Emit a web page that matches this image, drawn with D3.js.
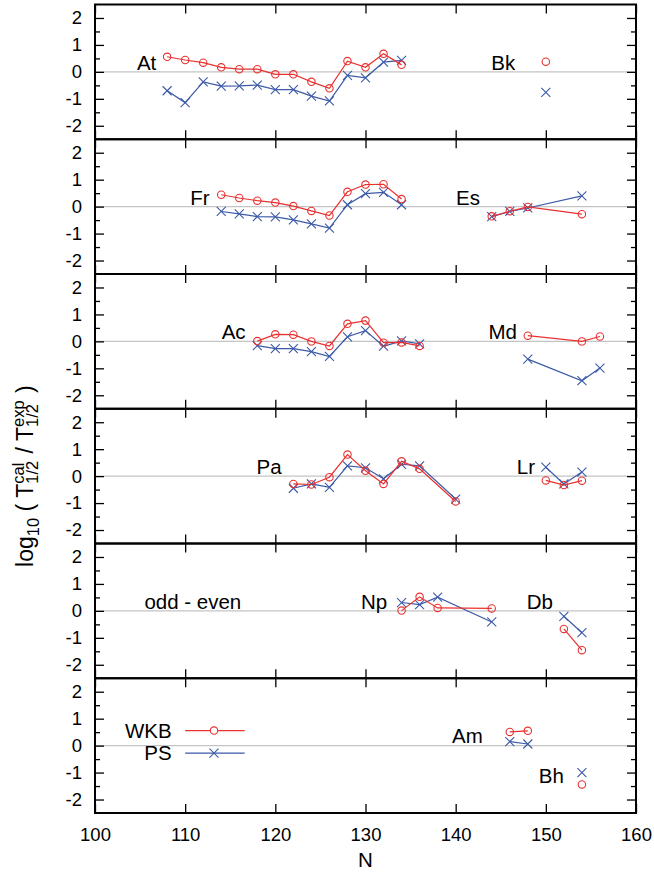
<!DOCTYPE html>
<html>
<head>
<meta charset="utf-8">
<script src="https://cdn.jsdelivr.net/npm/d3@7"></script>
<style>
  body { margin: 0; background: #fff; }
  svg { display: block; }
  text { font-family: "Liberation Sans", Arial, Helvetica, sans-serif; fill: #000; }
</style>
</head>
<body>
<svg id="chart" width="654" height="877"></svg>
<script>
// log10(T_cal / T_exp) per neutron number N, WKB and PS models, grouped by element

// At
const N_At   = [108, 110, 112, 114, 116, 118, 120, 122, 124, 126, 128, 130, 132, 134];
const wkb_At = [0.56, 0.44, 0.34, 0.17, 0.10, 0.10, -0.09, -0.09, -0.37, -0.61, 0.40, 0.17, 0.67, 0.26];
const ps_At  = [-0.70, -1.14, -0.37, -0.53, -0.52, -0.49, -0.66, -0.66, -0.90, -1.08, -0.13, -0.22, 0.36, 0.43];
// Bk
const N_Bk   = [150];
const wkb_Bk = [0.38];
const ps_Bk  = [-0.76];
// Fr
const N_Fr   = [114, 116, 118, 120, 122, 124, 126, 128, 130, 132, 134];
const wkb_Fr = [0.44, 0.32, 0.22, 0.15, 0.02, -0.16, -0.33, 0.55, 0.82, 0.83, 0.28];
const ps_Fr  = [-0.18, -0.27, -0.37, -0.38, -0.49, -0.64, -0.80, 0.07, 0.48, 0.53, 0.07];
// Es
const N_Es   = [144, 146, 148, 154];
const wkb_Es = [-0.36, -0.17, -0.01, -0.28];
const ps_Es  = [-0.37, -0.18, -0.05, 0.40];
// Ac
const N_Ac   = [118, 120, 122, 124, 126, 128, 130, 132, 134, 136];
const wkb_Ac = [0.01, 0.26, 0.25, 0.00, -0.17, 0.65, 0.77, -0.05, -0.04, -0.17];
const ps_Ac  = [-0.16, -0.27, -0.27, -0.38, -0.56, 0.17, 0.40, -0.18, 0.02, -0.09];
// Md
const N_Md   = [148, 154, 156];
const wkb_Md = [0.21, 0.00, 0.18];
const ps_Md  = [-0.66, -1.46, -0.99];
// Pa
const N_Pa   = [122, 124, 126, 128, 130, 132, 134, 136, 140];
const wkb_Pa = [-0.29, -0.31, -0.04, 0.80, 0.20, -0.29, 0.55, 0.27, -0.94];
const ps_Pa  = [-0.45, -0.29, -0.42, 0.38, 0.31, -0.10, 0.44, 0.38, -0.85];
// Lr
const N_Lr   = [150, 152, 154];
const wkb_Lr = [-0.16, -0.33, -0.17];
const ps_Lr  = [0.33, -0.29, 0.15];
// Np (odd - even)
const N_Np   = [134, 136, 138, 144];
const wkb_Np = [0.01, 0.52, 0.11, 0.09];
const ps_Np  = [0.31, 0.23, 0.51, -0.41];
// Db (odd - even)
const N_Db   = [152, 154];
const wkb_Db = [-0.67, -1.46];
const ps_Db  = [-0.20, -0.81];
// Am
const N_Am   = [146, 148];
const wkb_Am = [0.51, 0.55];
const ps_Am  = [0.15, 0.06];
// Bh
const N_Bh   = [154];
const wkb_Bh = [-1.44];
const ps_Bh  = [-1.00];

const xTicks = [100, 110, 120, 130, 140, 150, 160];
const yTicks = [-2, -1, 0, 1, 2];
const yMinor = [-1.5, -0.5, 0.5, 1.5];

// one row of the figure per entry
const rows = [
  [{ n: N_At, wkb: wkb_At, ps: ps_At }, { n: N_Bk, wkb: wkb_Bk, ps: ps_Bk }],
  [{ n: N_Fr, wkb: wkb_Fr, ps: ps_Fr }, { n: N_Es, wkb: wkb_Es, ps: ps_Es }],
  [{ n: N_Ac, wkb: wkb_Ac, ps: ps_Ac }, { n: N_Md, wkb: wkb_Md, ps: ps_Md }],
  [{ n: N_Pa, wkb: wkb_Pa, ps: ps_Pa }, { n: N_Lr, wkb: wkb_Lr, ps: ps_Lr }],
  [{ n: N_Np, wkb: wkb_Np, ps: ps_Np }, { n: N_Db, wkb: wkb_Db, ps: ps_Db }],
  [{ n: N_Am, wkb: wkb_Am, ps: ps_Am }, { n: N_Bh, wkb: wkb_Bh, ps: ps_Bh }]
];

// element tags: row, text, anchor (N), baseline (value), alignment
const tags = [
  [0, "At", 106.8, 0.07, "end"], [0, "Bk", 146.6, 0.07, "end"],
  [1, "Fr", 112.7, 0.07, "end"], [1, "Es", 142.7, 0.07, "end"],
  [2, "Ac", 116.7, 0.07, "end"], [2, "Md", 146.8, 0.07, "end"],
  [3, "Pa", 120.7, 0.07, "end"], [3, "Lr", 148.8, 0.07, "end"],
  [4, "odd - even", 110.85, 0.07, "middle"], [4, "Np", 132.4, 0.07, "end"], [4, "Db", 150.8, 0.07, "end"],
  [5, "Am", 143.0, 0.09, "end"], [5, "Bh", 152.0, -1.39, "end"]
];

const plotLeft = 95, plotRight = 636, plotTop = 4.5, rowH = 134.75;
const RED = "#e8302f", BLUE = "#3c5aa8";
const TICK_FS = 18.5, TAG_FS = 20.5;

const svg = d3.select("#chart");
const x = d3.scaleLinear().domain([100, 160]).range([plotLeft, plotRight]);

const crossPath = "M-4.5,-4.5L4.5,4.5M-4.5,4.5L4.5,-4.5";

function drawSeries(g, y, n, vals, color, marker) {
  const pts = n.map((d, i) => [d, vals[i]]);
  if (pts.length > 1) {
    g.append("path")
      .attr("d", d3.line().x(d => x(d[0])).y(d => y(d[1]))(pts))
      .attr("fill", "none").attr("stroke", color).attr("stroke-width", 1.2);
  }
  pts.forEach(d => {
    if (marker === "circle") {
      g.append("circle").attr("cx", x(d[0])).attr("cy", y(d[1])).attr("r", 3.7)
        .attr("fill", "none").attr("stroke", color).attr("stroke-width", 1.1);
    } else {
      g.append("path").attr("d", crossPath)
        .attr("transform", `translate(${x(d[0])},${y(d[1])})`)
        .attr("fill", "none").attr("stroke", color).attr("stroke-width", 1.1);
    }
  });
}

rows.forEach((row, i) => {
  const y0 = plotTop + i * rowH;
  const y = d3.scaleLinear().domain([-2.5, 2.5]).range([y0 + rowH, y0]);
  const g = svg.append("g");

  // zero reference line
  g.append("line")
    .attr("x1", plotLeft).attr("x2", plotRight).attr("y1", y(0)).attr("y2", y(0))
    .attr("stroke", "#c4c4c4").attr("stroke-width", 1.3);

  // y axes (labels on the left, mirrored ticks on the right)
  const yl = g.append("g").attr("transform", `translate(${plotLeft},0)`)
    .call(d3.axisLeft(y).tickValues(yTicks).tickSize(-9).tickSizeOuter(0).tickPadding(13).tickFormat(d => String(d)));
  yl.append("g").call(d3.axisLeft(y).tickValues(yMinor).tickSize(-5).tickSizeOuter(0).tickFormat(""));
  const yr = g.append("g").attr("transform", `translate(${plotRight},0)`)
    .call(d3.axisRight(y).tickValues(yTicks).tickSize(-9).tickSizeOuter(0).tickFormat(""));
  yr.append("g").call(d3.axisRight(y).tickValues(yMinor).tickSize(-5).tickSizeOuter(0).tickFormat(""));

  // x axes on top and bottom edges
  const last = i === rows.length - 1;
  const xb = g.append("g").attr("transform", `translate(0,${y0 + rowH})`)
    .call(d3.axisBottom(x).tickValues(xTicks).tickSize(-9).tickSizeOuter(0).tickPadding(15)
      .tickFormat(last ? d => String(d) : ""));
  g.append("g").attr("transform", `translate(0,${y0})`)
    .call(d3.axisTop(x).tickValues(xTicks).tickSize(-9).tickSizeOuter(0).tickFormat(""));

  g.selectAll(".domain").remove();
  g.selectAll(".tick line").attr("stroke", "#000").attr("stroke-width", 1.3);
  g.selectAll("g").attr("font-family", null).attr("font-size", null);
  yl.selectAll("text").attr("font-size", TICK_FS);
  xb.selectAll("text").attr("font-size", TICK_FS);

  // data
  row.forEach(s => {
    drawSeries(g, y, s.n, s.ps, BLUE, "cross");
    drawSeries(g, y, s.n, s.wkb, RED, "circle");
  });

  // element tags
  tags.filter(t => t[0] === i).forEach(t => {
    g.append("text").attr("x", x(t[2])).attr("y", y(t[3]))
      .attr("text-anchor", t[4]).attr("font-size", TAG_FS).text(t[1]);
  });

  // frame
  g.append("rect").attr("x", plotLeft).attr("y", y0).attr("width", plotRight - plotLeft).attr("height", rowH)
    .attr("fill", "none").attr("stroke", "#000").attr("stroke-width", 2);

  // legend in the bottom row
  if (last) {
    const leg = [["WKB", 0.56, RED, "circle"], ["PS", -0.28, BLUE, "cross"]];
    leg.forEach(l => {
      const ly = y(l[1]);
      g.append("text").attr("x", x(108.5)).attr("y", ly).attr("dy", "0.35em")
        .attr("text-anchor", "end").attr("font-size", TAG_FS).text(l[0]);
      g.append("line").attr("x1", x(110)).attr("x2", x(116.6)).attr("y1", ly).attr("y2", ly)
        .attr("stroke", l[2]).attr("stroke-width", 1.2);
      if (l[3] === "circle") {
        g.append("circle").attr("cx", x(113.2)).attr("cy", ly).attr("r", 3.7)
          .attr("fill", "#fff").attr("stroke", l[2]).attr("stroke-width", 1.1);
      } else {
        g.append("path").attr("d", crossPath).attr("transform", `translate(${x(113.2)},${ly})`)
          .attr("fill", "none").attr("stroke", l[2]).attr("stroke-width", 1.1);
      }
    });
  }
});

// x-axis title
svg.append("text").attr("x", (plotLeft + plotRight) / 2).attr("y", 867)
  .attr("text-anchor", "middle").attr("font-size", TAG_FS).text("N");

// y-axis title: log10 ( T^cal_1/2 / T^exp_1/2 ), drawn piece by piece
const yt = svg.append("g");
const BIG = 23, SMALL = 16.5;
let cx = 0;
function piece(str, size, dy) {
  const t = yt.append("text").attr("x", cx).attr("y", dy).attr("font-size", size)
    .attr("xml:space", "preserve").style("white-space", "pre").text(str);
  return t.node().getComputedTextLength();
}
function stacked(sup, sub, size) {
  const w1 = piece(sup, size, -9);
  const w2 = piece(sub, size, 5);
  return Math.max(w1, w2);
}
cx += piece("log", BIG, 0);
cx += piece("10", SMALL, 6);
cx += piece(" ( T", BIG, 0);
cx += stacked("cal", "1/2", SMALL) + 1;
cx += piece(" / T", BIG, 0);
cx += stacked("exp", "1/2", SMALL) + 1;
cx += piece(" )", BIG, 0);
yt.selectAll("text").attr("transform", `translate(${-cx / 2},0)`);
yt.attr("transform", `translate(33,${plotTop + 3.5 * rowH}) rotate(-90)`);
</script>
</body>
</html>
